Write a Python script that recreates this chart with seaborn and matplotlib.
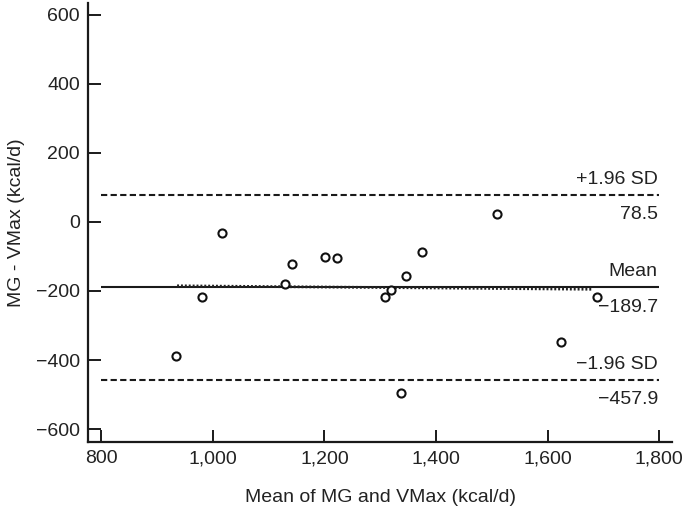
import numpy as np
import pandas as pd
import matplotlib
matplotlib.use("Agg")
import matplotlib.pyplot as plt
import matplotlib.ticker as mticker
import seaborn as sns

# Bland-Altman data
mean_vals = [934, 980, 1017, 1142, 1130, 1201, 1223, 1309, 1319, 1347, 1375, 1509, 1689, 1624, 1338]
diff_vals = [-388, -218, -33, -121, -179, -101, -105, -218, -197, -156, -88, 22, -217, -349, -496]

mean_diff = -189.7
upper_loa = 78.5
lower_loa = -457.9
line_x = [800, 1800]

# fitted trend line (dotted), end points
trend_x = [936, 1680]
trend_y = [-185, -195]

df = pd.DataFrame({"avg": mean_vals, "diff": diff_vals})

sns.set_theme(style="ticks")
plt.rcParams["font.family"] = ["Liberation Sans", "DejaVu Sans"]

fig = plt.figure(figsize=(6.85, 5.12), dpi=100)
ax = fig.add_axes([0.129, 0.137, 0.852, 0.857])

# limit lines
ax.hlines(upper_loa, line_x[0], line_x[1], colors="#1a1a1a", linestyles=(0, (3, 1.6)), linewidth=1.5)
ax.hlines(lower_loa, line_x[0], line_x[1], colors="#1a1a1a", linestyles=(0, (3, 1.6)), linewidth=1.5)
ax.hlines(mean_diff, line_x[0], line_x[1], colors="#1a1a1a", linestyles="solid", linewidth=1.5)
ax.plot(trend_x, trend_y, color="#222222", linestyle=(0, (0.7, 0.7)), linewidth=2.0)

sns.scatterplot(data=df, x="avg", y="diff", ax=ax, marker="o", s=34,
                facecolor="white", edgecolor="#111111", linewidth=1.5, zorder=5)

# labels at right end of lines
lab_kw = dict(ha="right", fontsize=14, color="#222222", textcoords="offset points")
ax.annotate("+1.96 SD", (1800, upper_loa), xytext=(-1, 5), va="bottom", **lab_kw)
ax.annotate(f"{upper_loa:.1f}", (1800, upper_loa), xytext=(-1, -8), va="top", **lab_kw)
ax.annotate("Mean", (1800, mean_diff), xytext=(-1, 5), va="bottom", **lab_kw)
ax.annotate(f"{mean_diff:.1f}".replace("-", "\u2212"), (1800, mean_diff), xytext=(-1, -8), va="top", **lab_kw)
ax.annotate("\u22121.96 SD", (1800, lower_loa), xytext=(-1, 5), va="bottom", **lab_kw)
ax.annotate(f"{lower_loa:.1f}".replace("-", "\u2212"), (1800, lower_loa), xytext=(-1, -8), va="top", **lab_kw)

ax.set_xlim(777, 1823)
ax.set_ylim(-637, 634)
ax.set_xticks(np.arange(800, 1801, 200))
ax.set_yticks(np.arange(-600, 601, 200))
ax.xaxis.set_major_formatter(mticker.FuncFormatter(lambda v, p: f"{int(v):,}"))

ax.set_xlabel("Mean of MG and VMax (kcal/d)", fontsize=14, color="#222222", labelpad=16)
ax.set_ylabel("MG - VMax (kcal/d)", fontsize=14, color="#222222", labelpad=8)

for side in ["top", "right"]:
    ax.spines[side].set_visible(False)
for side in ["left", "bottom"]:
    ax.spines[side].set_linewidth(1.6)
    ax.spines[side].set_color("#1a1a1a")
ax.tick_params(direction="in", length=9, width=1.4, color="#1a1a1a",
               labelsize=14, labelcolor="#222222", pad=6)
ax.set_facecolor("white")

fig.savefig("out.png", dpi=100, facecolor="white")
